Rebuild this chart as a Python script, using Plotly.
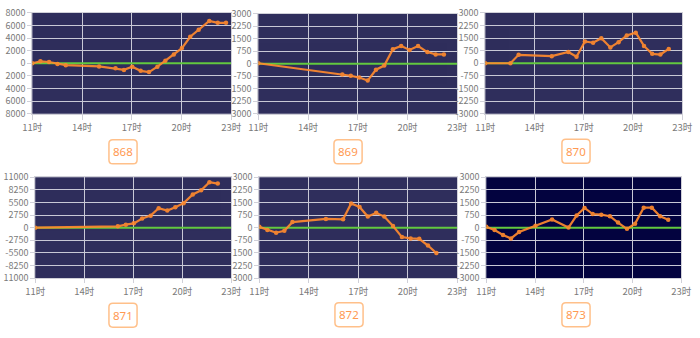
import plotly.graph_objects as go

# ---- data: decimal hour of day and value for each product line ----
hours_868 = [11.0, 11.49, 12.01, 12.52, 13.02, 15.03, 16.02, 16.53, 17.03, 17.54, 18.04,
             18.55, 19.03, 19.54, 20.03, 20.53, 21.04, 21.68, 22.19, 22.69]
values_868 = [0, 300, 200, -100, -300, -500, -800, -1050, -550, -1200, -1400,
              -550, 400, 1400, 2400, 4200, 5300, 6700, 6400, 6400]

hours_869 = [11.0, 16.07, 16.58, 17.09, 17.6, 18.1, 18.6, 19.12, 19.62, 20.13, 20.64,
             21.2, 21.7, 22.2]
values_869 = [30, -640, -720, -830, -1010, -360, -110, 870, 1060, 830, 1060,
              700, 560, 560]

hours_870 = [11.0, 12.53, 13.03, 15.05, 16.06, 16.56, 17.07, 17.57, 18.07, 18.62, 19.12,
             19.62, 20.17, 20.67, 21.17, 21.67, 22.18]
values_870 = [0, 0, 500, 420, 670, 390, 1300, 1220, 1490, 940, 1250,
              1650, 1820, 1030, 560, 520, 850]

hours_871 = [11.0, 16.06, 16.55, 17.04, 17.55, 18.07, 18.56, 19.09, 19.58, 20.09, 20.65,
             21.16, 21.67, 22.18]
values_871 = [0, 300, 660, 940, 1990, 2620, 4220, 3730, 4430, 5340, 7230,
              8140, 9890, 9610]

hours_872 = [11.0, 11.49, 12.02, 12.52, 13.01, 15.04, 16.08, 16.57, 17.08, 17.58, 18.09,
             18.58, 19.11, 19.65, 20.18, 20.7, 21.23, 21.74]
values_872 = [50, -140, -300, -180, 330, 520, 500, 1440, 1230, 660, 880,
              660, 100, -560, -640, -660, -1060, -1510]

hours_873 = [11.0, 11.51, 12.03, 12.52, 13.02, 14.03, 15.05, 16.06, 16.56, 17.05, 17.55,
             18.08, 18.61, 19.11, 19.66, 20.16, 20.69, 21.19, 21.7, 22.2]
values_873 = [50, -140, -430, -640, -260, 120, 490, 10, 720, 1170, 810,
              770, 680, 300, -70, 240, 1190, 1190, 680, 470]

titles = ["868", "869", "870", "871", "872", "873"]

# x axis ticks
hour_ticks = [11, 14, 17, 20, 23]
hour_labels = ["11时", "14时", "17时", "20时", "23时"]

# y axis ticks (labels as printed beside each chart)
y_ticks_8000 = [8000, 6000, 4000, 2000, 0, -2000, -4000, -6000, -8000]
y_labels_8000 = ["8000", "6000", "4000", "2000", "0", "2000", "4000", "6000", "8000"]
y_ticks_3000 = [3000, 2250, 1500, 750, 0, -750, -1500, -2250, -3000]
y_labels_3000_cut = ["3000", "2250", "1500", "750", "0", "-750", "1500", "2250", "3000"]
y_labels_3000 = ["3000", "2250", "1500", "750", "0", "-750", "-1500", "-2250", "-3000"]
y_ticks_11000 = [11000, 8250, 5500, 2750, 0, -2750, -5500, -8250, -11000]
y_labels_11000 = ["11000", "8250", "5500", "2750", "0", "-2750", "-5500", "-8250", "11000"]

W, H = 700, 338

# panel boxes in pixels: (left, right, top, bottom)
panels = [
    dict(x=hours_868, y=values_868, box=(23, 228, 6, 111), rng=8000,
         tv=y_ticks_8000, tt=y_labels_8000, bg="#2f2e5c", lab=(116.5, 150.5)),
    dict(x=hours_869, y=values_869, box=(256, 461, 7, 111), rng=3000,
         tv=y_ticks_3000, tt=y_labels_3000_cut, bg="#2f2e5c", lab=(348.5, 150.5)),
    dict(x=hours_870, y=values_870, box=(490, 693, 6, 111), rng=3000,
         tv=y_ticks_3000, tt=y_labels_3000, bg="#2f2e5c", lab=(583.5, 150)),
    dict(x=hours_871, y=values_871, box=(26, 228, 177, 282), rng=11000,
         tv=y_ticks_11000, tt=y_labels_11000, bg="#2f2e5c", lab=(116.5, 320.5)),
    dict(x=hours_872, y=values_872, box=(257, 461, 177, 282), rng=3000,
         tv=y_ticks_3000, tt=y_labels_3000_cut, bg="#2f2e5c", lab=(349.5, 320)),
    dict(x=hours_873, y=values_873, box=(491, 692, 177, 282), rng=3000,
         tv=y_ticks_3000, tt=y_labels_3000, bg="#03033f", lab=(583.5, 320)),
]

ORANGE = "#ff8a2e"
GREEN = "#63c93f"
GRID = "#c9c9d6"
TICKFONT = dict(family="Noto Sans CJK SC, Noto Sans, sans-serif", size=9, color="#7a7a7a")

fig = go.Figure()
layout = dict(width=W, height=H, margin=dict(l=0, r=0, t=0, b=0),
              paper_bgcolor="white", showlegend=False)
shapes = []
annotations = []


def rounded_rect(cx, cy, w, h, r):
    x0, x1 = (cx - w / 2) / W, (cx + w / 2) / W
    y0, y1 = 1 - (cy + h / 2) / H, 1 - (cy - h / 2) / H
    rx, ry = r / W, r / H
    return (f"M {x0 + rx} {y1} L {x1 - rx} {y1} Q {x1} {y1} {x1} {y1 - ry} "
            f"L {x1} {y0 + ry} Q {x1} {y0} {x1 - rx} {y0} "
            f"L {x0 + rx} {y0} Q {x0} {y0} {x0} {y0 + ry} "
            f"L {x0} {y1 - ry} Q {x0} {y1} {x0 + rx} {y1} Z")


for i, p in enumerate(panels):
    n = i + 1
    xa = "x" if n == 1 else f"x{n}"
    ya = "y" if n == 1 else f"y{n}"
    left, right, top, bottom = p["box"]
    row_top = top < 100

    # zero reference line
    fig.add_trace(go.Scatter(x=[11, 23], y=[0, 0], mode="lines",
                             line=dict(color=GREEN, width=2),
                             xaxis=xa, yaxis=ya, hoverinfo="skip"))
    # series
    fig.add_trace(go.Scatter(x=p["x"], y=p["y"], mode="lines+markers",
                             line=dict(color=ORANGE, width=2.2),
                             marker=dict(color=ORANGE, size=4.5),
                             opacity=0.92,
                             xaxis=xa, yaxis=ya))

    layout["xaxis" if n == 1 else f"xaxis{n}"] = dict(
        domain=[left / W, right / W], anchor=ya, range=[11, 23],
        tickvals=hour_ticks, ticktext=hour_labels, tickfont=dict(TICKFONT, size=9.5),
        showgrid=True, gridcolor=GRID, gridwidth=1, zeroline=False,
        showline=True, linecolor="#d0d0d8", linewidth=1, mirror=True,
        ticks="outside", ticklen=5 if row_top else 4, tickcolor="#d0d0d8", fixedrange=True)
    layout["yaxis" if n == 1 else f"yaxis{n}"] = dict(
        domain=[1 - bottom / H, 1 - top / H], anchor=xa, range=[-p["rng"], p["rng"]],
        tickvals=p["tv"], ticktext=p["tt"], tickfont=TICKFONT,
        showgrid=True, gridcolor=GRID, gridwidth=1, zeroline=False,
        showline=True, linecolor="#d0d0d8", linewidth=1, mirror=True,
        ticks="outside", ticklen=4, tickcolor="#d0d0d8", fixedrange=True)
    shapes.append(dict(type="rect", xref="paper", yref="paper",
                       x0=left / W, x1=right / W, y0=1 - bottom / H, y1=1 - top / H,
                       fillcolor=p["bg"], line=dict(width=0), layer="below"))

    cx, cy = p["lab"]
    shapes.append(dict(type="path", xref="paper", yref="paper",
                       path=rounded_rect(cx, cy, 29, 25, 4),
                       line=dict(color="#ffc08a", width=1.5), fillcolor="rgba(0,0,0,0)"))
    annotations.append(dict(xref="paper", yref="paper", x=cx / W, y=1 - cy / H,
                            xanchor="center", yanchor="middle",
                            text=titles[i], showarrow=False,
                            font=dict(family="Noto Sans, sans-serif", size=11.5, color="#ff9a52")))

layout["shapes"] = shapes
layout["annotations"] = annotations
layout["plot_bgcolor"] = "rgba(0,0,0,0)"
fig.update_layout(**layout)

fig.write_html("out.html")
